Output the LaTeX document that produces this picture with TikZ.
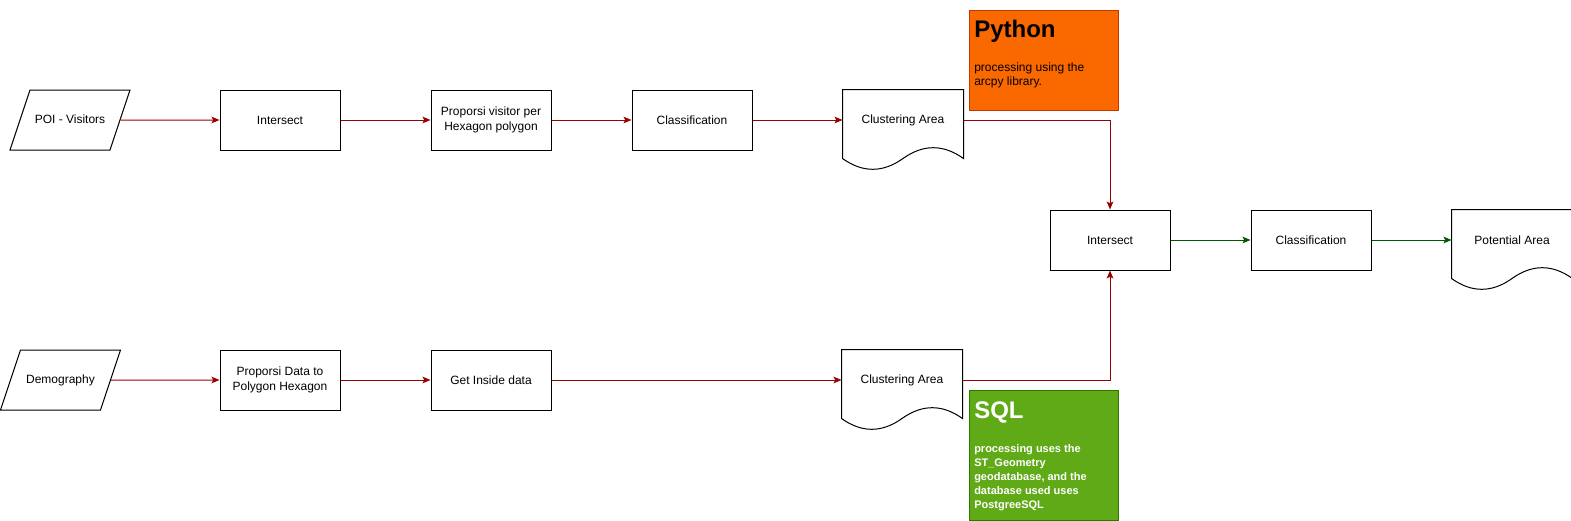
\documentclass[tikz,border=0pt]{standalone}
\usepackage{fontspec}
\setmainfont{Liberation Sans}
\usetikzlibrary{positioning, shapes.geometric, arrows.meta, calc}

\definecolor{flowred}{HTML}{990000}
\definecolor{flowgreen}{HTML}{005700}
\definecolor{pyfill}{HTML}{FA6800}
\definecolor{pyline}{HTML}{C73500}
\definecolor{sqlfill}{HTML}{60A917}
\definecolor{sqlline}{HTML}{2D7600}

% outline of a document shape around a named node
\newcommand{\docwave}[1]{%
	\draw[line width=0.75pt] (#1.north west) -- (#1.north east) -- ($(#1.south east)+(0,8)$)
		.. controls ($(#1.south west)!0.8333!(#1.south east)+(0,-6.4)$) and ($(#1.south west)!0.6667!(#1.south east)+(0,-6.4)$) .. ($(#1.south)+(0,8)$)
		.. controls ($(#1.south west)!0.3333!(#1.south east)+(0,22.4)$) and ($(#1.south west)!0.1667!(#1.south east)+(0,22.4)$) .. ($(#1.south west)+(0,8)$) -- cycle;}

\begin{document}
\begin{tikzpicture}[x=0.75pt, y=-0.75pt, node distance=67.5pt,
	font=\fontsize{9}{10.8}\selectfont,
	box/.style={draw, line width=0.75pt, minimum width=90pt, minimum height=45pt, align=center, inner sep=0pt},
	io/.style={box, trapezium, trapezium left angle=71.57, trapezium right angle=108.43, trapezium stretches body=true,
		inner ysep=18.25pt, text height=6.5pt, text depth=2pt},
	doc/.style={box, draw=none},
	redline/.style={draw=flowred, line width=0.75pt, -{Stealth[length=6pt, width=5pt, inset=1.3pt]}},
	greenline/.style={redline, draw=flowgreen},
	note/.style={anchor=north west, minimum width=111.75pt, line width=0.75pt, inner sep=0pt}]
	\useasboundingbox (0,0) rectangle (1571,521);
	
	% top row
	\node[io] (poi) at (70,120) {POI - Visitors};
	\node[box] (isect1) at (280,120) {Intersect};
	\node[box, right=of isect1] (visit) {Proporsi visitor per\\Hexagon polygon};
	\node[box, right=60pt of visit] (classif1) {Classification};
	\node[doc, right=of classif1] (clus1) {Clustering Area};
	
	% bottom row
	\node[io] (demog) at (60.5,380) {Demography};
	\node[box] (propdata) at (280,380) {Proporsi Data to\\Polygon Hexagon};
	\node[box, right=of propdata] (inside) {Get Inside data};
	\node[doc, right=217.5pt of inside] (clus2) {Clustering Area};
	
	% merge
	\node[box] (isect2) at (1110,240) {Intersect};
	\node[box, right=60pt of isect2] (classif2) {Classification};
	\node[doc, right=60pt of classif2] (potential) {Potential Area};
	
	\docwave{clus1}
	\docwave{clus2}
	\docwave{potential}
	
	% notes
	\node[note, minimum height=75pt, fill=pyfill, draw=pyline] (python) at (969,10) {};
	\node[anchor=base west, inner sep=0pt, font=\bfseries\fontsize{18}{21.6}\selectfont] (pytitle) at ($(python.north west)+(5,27)$) {Python};
	\node[anchor=north west, inner sep=0pt, align=left, font=\fontsize{9}{10}\selectfont] (pybody) at ($(python.north west)+(5,53)$) {processing using the\\arcpy library.};
	
	\node[note, minimum height=97.5pt, fill=sqlfill, draw=sqlline] (sql) at (969,390) {};
	\node[anchor=base west, inner sep=0pt, text=white, font=\bfseries\fontsize{18}{21.6}\selectfont] (sqltitle) at ($(sql.north west)+(5,28)$) {SQL};
	\node[anchor=north west, inner sep=0pt, align=left, text=white, font=\bfseries\fontsize{8.25}{10.5}\selectfont] (sqlbody) at ($(sql.north west)+(5,54)$) {processing uses the\\ST\_Geometry\\geodatabase, and the\\database used uses\\PostgreeSQL};
	
	\draw[redline] (poi) -- (isect1);
	\draw[redline] (isect1) -- (visit);
	\draw[redline] (visit) -- (classif1);
	\draw[redline] (classif1) -- (clus1);
	\draw[redline] (demog) -- (propdata);
	\draw[redline] (propdata) -- (inside);
	\draw[redline] (inside) -- (clus2);
	\draw[redline] (clus1.east) -| (isect2.north);
	\draw[redline] (clus2.east) -| (isect2.south);
	\draw[greenline] (isect2) -- (classif2);
	\draw[greenline] (classif2) -- (potential);
\end{tikzpicture}
\end{document}
